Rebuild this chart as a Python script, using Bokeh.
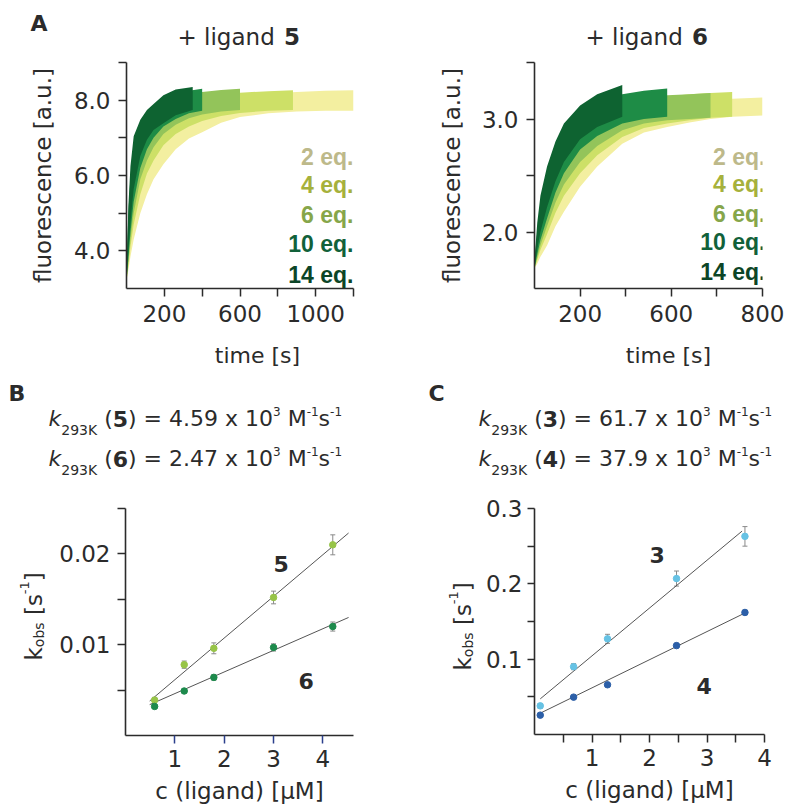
import math
from bokeh.plotting import figure
from bokeh.models import (ColumnDataSource, FixedTicker, Label, Whisker, TeeHead, Range1d)
from bokeh.layouts import column, row
from bokeh.embed import file_html
from bokeh.resources import INLINE

FONT = "DejaVu Sans"
LEG_FONT = "Liberation Sans"
INK = "#2b2b2b"

# ---------------- data: panel A, ligand 5 (fluorescence bands, lower / upper edge) ----------------
t5_14 = [0, 10, 21, 38, 73, 108, 143, 195, 260, 350]
lo5_14 = [3.2, 4.0, 4.77, 5.64, 6.52, 6.95, 7.21, 7.39, 7.6, 7.74]
hi5_14 = [3.5, 5.2, 6.25, 7.04, 7.48, 7.74, 7.9, 8.13, 8.28, 8.35]

t5_10 = [0, 10, 21, 38, 73, 108, 143, 195, 260, 330, 400]
lo5_10 = [3.2, 3.8, 4.5, 5.3, 6.2, 6.7, 7.0, 7.3, 7.5, 7.65, 7.72]
hi5_10 = [3.5, 5.0, 6.0, 6.8, 7.35, 7.62, 7.8, 8.0, 8.15, 8.25, 8.3]

t5_6 = [0, 10, 21, 38, 73, 108, 143, 195, 260, 330, 400, 500, 600]
lo5_6 = [3.2, 3.7, 4.3, 5.0, 5.9, 6.4, 6.75, 7.1, 7.35, 7.52, 7.62, 7.7, 7.74]
hi5_6 = [3.5, 4.7, 5.6, 6.4, 7.05, 7.4, 7.6, 7.85, 8.02, 8.15, 8.22, 8.27, 8.3]

t5_4 = [0, 10, 21, 38, 73, 108, 143, 195, 260, 330, 400, 500, 600, 750, 880]
lo5_4 = [3.2, 3.6, 4.1, 4.7, 5.5, 6.05, 6.4, 6.8, 7.1, 7.3, 7.45, 7.58, 7.66, 7.72, 7.74]
hi5_4 = [3.5, 4.5, 5.3, 6.0, 6.75, 7.15, 7.4, 7.65, 7.85, 8.0, 8.08, 8.15, 8.2, 8.24, 8.26]

t5_2 = [0, 10, 21, 38, 73, 108, 143, 195, 260, 330, 400, 500, 600, 750, 900, 1050, 1200]
lo5_2 = [3.2, 3.5, 3.85, 4.3, 5.0, 5.5, 5.9, 6.3, 6.7, 6.98, 7.15, 7.4, 7.55, 7.65, 7.7, 7.72, 7.72]
hi5_2 = [3.5, 4.2, 4.8, 5.4, 6.15, 6.6, 6.9, 7.2, 7.5, 7.7, 7.85, 8.0, 8.1, 8.18, 8.22, 8.25, 8.26]

# ---------------- data: panel A, ligand 6 ----------------
t6_14 = [0, 12, 26, 55, 92, 129, 200, 275, 385]
lo6_14 = [1.68, 1.85, 2.0, 2.22, 2.45, 2.62, 2.82, 2.93, 3.02]
hi6_14 = [1.75, 2.08, 2.32, 2.58, 2.8, 2.96, 3.12, 3.22, 3.3]

t6_10 = [0, 12, 26, 55, 92, 129, 200, 275, 385, 480, 582]
lo6_10 = [1.68, 1.8, 1.93, 2.12, 2.35, 2.52, 2.73, 2.85, 2.96, 3.0, 3.02]
hi6_10 = [1.75, 2.0, 2.2, 2.48, 2.7, 2.86, 3.04, 3.14, 3.22, 3.25, 3.27]

t6_6 = [0, 12, 26, 55, 92, 129, 200, 275, 385, 480, 582, 680, 772]
lo6_6 = [1.68, 1.77, 1.88, 2.05, 2.26, 2.42, 2.62, 2.76, 2.9, 2.96, 2.99, 3.0, 3.01]
hi6_6 = [1.75, 1.95, 2.12, 2.38, 2.6, 2.76, 2.95, 3.06, 3.15, 3.19, 3.21, 3.22, 3.23]

t6_4 = [0, 12, 26, 55, 92, 129, 200, 275, 385, 480, 582, 680, 772, 867]
lo6_4 = [1.68, 1.75, 1.84, 1.98, 2.17, 2.32, 2.52, 2.68, 2.84, 2.92, 2.96, 2.99, 3.01, 3.02]
hi6_4 = [1.75, 1.9, 2.05, 2.3, 2.52, 2.67, 2.87, 2.99, 3.1, 3.16, 3.2, 3.22, 3.23, 3.24]

t6_2 = [0, 12, 26, 55, 92, 129, 200, 275, 385, 480, 582, 680, 772, 867, 1000]
lo6_2 = [1.68, 1.72, 1.78, 1.88, 2.05, 2.18, 2.4, 2.58, 2.78, 2.88, 2.93, 2.97, 3.0, 3.02, 3.03]
hi6_2 = [1.75, 1.85, 1.97, 2.2, 2.42, 2.57, 2.77, 2.9, 3.03, 3.1, 3.14, 3.16, 3.17, 3.18, 3.19]

eq_labels = ["2 eq.", "4 eq.", "6 eq.", "10 eq.", "14 eq."]

# ---------------- data: panel B ----------------
conc_B = [0.59, 1.19, 1.79, 3.0, 4.2]
kobs_5 = [0.0039, 0.0078, 0.0096, 0.0152, 0.0210]
err_5 = [0.0003, 0.0004, 0.0006, 0.0007, 0.0011]
kobs_6 = [0.0032, 0.0049, 0.0064, 0.0097, 0.0120]
err_6 = [0.0002, 0.0002, 0.0003, 0.0004, 0.0005]
fit_x_B = [0.49, 4.52]
fit_5 = [0.0038, 0.0223]
fit_6 = [0.0034, 0.0130]

# ---------------- data: panel C ----------------
conc_C = [0.1, 0.68, 1.27, 2.47, 3.66]
kobs_3 = [0.038, 0.090, 0.127, 0.207, 0.263]
err_3 = [0.003, 0.004, 0.006, 0.010, 0.013]
kobs_4 = [0.0257, 0.0496, 0.066, 0.118, 0.162]
err_4 = [0.002, 0.002, 0.002, 0.003, 0.003]
fit_x_3 = [0.1, 3.61]
fit_3 = [0.0473, 0.270]
fit_x_4 = [0.1, 3.69]
fit_4 = [0.0283, 0.1624]

rate_names_B = ["5", "6"]
rate_values_B = ["4.59", "2.47"]
rate_names_C = ["3", "4"]
rate_values_C = ["61.7", "37.9"]

# ---------------- styling ----------------
BAND_COLORS = ["#f3efa0", "#cde067", "#93c45a", "#1e8c46", "#0e6331"]
LEG_COLORS = ["#bdb98a", "#a6b13c", "#86a64a", "#11613a", "#0c4527"]

# DejaVu Sans advance widths (em)
WREG = {" ": .318, "(": .39, ")": .39, "=": .838, ".": .318, "x": .592, "M": .863,
        "s": .521, "K": .656, "k": .580, "-": .361, "[": .39, "]": .39, "o": .612, "b": .635,
        "+": .838, "l": .278, "i": .278, "g": .635, "a": .613, "n": .634, "d": .635}
for d in "0123456789":
    WREG[d] = .636


def text_w(txt, size, bold=False):
    w = 0.0
    for ch in txt:
        if bold and ch.isdigit():
            w += .696
        else:
            w += WREG.get(ch, .6)
    return w * size


class Geo:
    """maps page pixel positions to data coordinates of a figure"""
    def __init__(self, L, T, W, H, xr, yr):
        self.L, self.T, self.W, self.H = L, T, W, H
        self.xr, self.yr = xr, yr

    def x(self, px):
        return self.xr[0] + (px - self.L) / self.W * (self.xr[1] - self.xr[0])

    def y(self, py):
        return self.yr[0] + (self.T + self.H - py) / self.H * (self.yr[1] - self.yr[0])


class PageGeo:
    def x(self, px):
        return px

    def y(self, py):
        return py


PG = PageGeo()


def canvas(x0, x1, y0, y1):
    p = figure(frame_width=x1 - x0, frame_height=y1 - y0,
               x_range=Range1d(x0, x1), y_range=Range1d(y1, y0),
               output_backend="svg", toolbar_location=None, tools="",
               min_border=0, x_axis_location=None, y_axis_location=None)
    p.outline_line_color = None
    p.grid.visible = False
    p.xgrid.grid_line_color = None
    p.ygrid.grid_line_color = None
    p.background_fill_color = "white"
    p.border_fill_color = "white"
    return p


def make_fig(g, origin, size, xticks, xlab, yticks, ylab):
    ox, oy = origin
    fw, fh = size
    p = figure(frame_width=g.W, frame_height=g.H,
               x_range=Range1d(*g.xr), y_range=Range1d(*g.yr),
               output_backend="svg", toolbar_location=None, tools="",
               min_border_left=g.L - ox, min_border_top=g.T - oy,
               min_border_right=ox + fw - (g.L + g.W),
               min_border_bottom=oy + fh - (g.T + g.H))
    p.outline_line_color = None
    p.grid.visible = False
    p.background_fill_color = "white"
    p.border_fill_color = "white"
    for ax in (p.xaxis[0], p.yaxis[0]):
        ax.axis_line_color = INK
        ax.axis_line_width = 1.6
        ax.major_tick_line_color = INK
        ax.major_tick_line_width = 1.5
        ax.major_tick_out = 8
        ax.major_tick_in = 0
        ax.minor_tick_line_color = None
        ax.major_label_text_font = FONT
        ax.major_label_text_font_size = "23px"
        ax.major_label_text_color = INK
        ax.major_label_standoff = 8
        ax.axis_label_text_font = FONT
        ax.axis_label_text_font_size = "23px"
        ax.axis_label_text_font_style = "normal"
        ax.axis_label_text_color = INK
    p.xaxis[0].ticker = FixedTicker(ticks=xticks, minor_ticks=[])
    p.xaxis[0].major_label_overrides = {t: l for t, l in zip(xticks, xlab)}
    p.yaxis[0].ticker = FixedTicker(ticks=yticks, minor_ticks=[])
    p.yaxis[0].major_label_overrides = {t: l for t, l in zip(yticks, ylab)}
    return p


def lab(p, g, px, py, text, size, style="normal", color=INK, align="left",
        baseline="alphabetic", angle=0.0, font=FONT):
    p.add_layout(Label(x=g.x(px), y=g.y(py), text=text, text_font=font,
                       text_font_size=f"{size}px", text_font_style=style,
                       text_color=color, text_align=align, text_baseline=baseline,
                       angle=angle))


def rate_line(p, px0, pyb, name, val):
    segs = [("k", 22, "italic", 0), ("293K", 14, "normal", 11), (" (", 22, "normal", 0),
            (name, 22, "bold", 0), (") = " + val + " x 10", 22, "normal", 0),
            ("3", 12, "normal", -7), (" M", 22, "normal", 0), ("-1", 12, "normal", -7),
            ("s", 22, "normal", 0), ("-1", 12, "normal", -7)]
    x = px0
    for txt, sz, st, dy in segs:
        shown = txt.lstrip(" ")
        lead = text_w(txt[:len(txt) - len(shown)], sz)
        lab(p, PG, x + lead, pyb + dy, shown, sz, style=st)
        x += text_w(txt, sz, bold=(st == "bold"))


def kobs_label(p, pxb, py0):
    segs = [("k", 23, 0), ("obs", 14, 5), (" [s", 23, 0), ("-1", 13, -9), ("]", 23, 0)]
    y = py0
    for txt, sz, dx in segs:
        shown = txt.lstrip(" ")
        lead = text_w(txt[:len(txt) - len(shown)], sz)
        lab(p, PG, pxb + dx, y - lead, shown, sz, angle=math.pi / 2)
        y -= text_w(txt, sz)


# ---------------- header A ----------------
hdrA = canvas(0, 800, 0, 50)
lab(hdrA, PG, 30, 23, "A", 22, style="bold")
lab(hdrA, PG, 177, 36, "+ ligand", 23)
lab(hdrA, PG, 177 + text_w("+ ligand ", 23) + 2, 36, "5", 23, style="bold")
lab(hdrA, PG, 585, 36, "+ ligand", 23)
lab(hdrA, PG, 585 + text_w("+ ligand ", 23) + 2, 36, "6", 23, style="bold")

# ---------------- panel A left ----------------
gA1 = Geo(126, 61, 227, 226, (0, 1200), (3.0, 9.0))
pA1 = make_fig(gA1, (0, 50), (400, 283),
               [200, 400, 600, 800, 1000, 1200], ["200", "", "600", "", "1000", ""],
               [4.0, 5.0, 6.0, 7.0, 8.0, 9.0], ["4.0", "", "6.0", "", "8.0", ""])
bands5 = [(t5_2, lo5_2, hi5_2), (t5_4, lo5_4, hi5_4), (t5_6, lo5_6, hi5_6),
          (t5_10, lo5_10, hi5_10), (t5_14, lo5_14, hi5_14)]
for (t, lo, hi), c in zip(bands5, BAND_COLORS):
    pA1.varea(x=t, y1=lo, y2=hi, fill_color=c, fill_alpha=1.0)
pA1.yaxis[0].axis_label = "fluorescence [a.u.]"
pA1.yaxis[0].axis_label_standoff = 15

# ---------------- panel A right ----------------
gA2 = Geo(534, 62, 228, 226, (0, 1000), (1.5, 3.5))
pA2 = make_fig(gA2, (400, 50), (400, 283),
               [200, 400, 600, 800, 1000], ["200", "", "600", "", "800"],
               [2.0, 2.5, 3.0, 3.5], ["2.0", "", "3.0", ""])
bands6 = [(t6_2, lo6_2, hi6_2), (t6_4, lo6_4, hi6_4), (t6_6, lo6_6, hi6_6),
          (t6_10, lo6_10, hi6_10), (t6_14, lo6_14, hi6_14)]
for (t, lo, hi), c in zip(bands6, BAND_COLORS):
    pA2.varea(x=t, y1=lo, y2=hi, fill_color=c, fill_alpha=1.0)
pA2.yaxis[0].axis_label = "fluorescence [a.u.]"
pA2.yaxis[0].axis_label_standoff = 14

leg_y1 = [155, 183.5, 213, 242.5, 273]
leg_y2 = [156.5, 183, 213, 241.5, 271.5]
for txt, c, y1, y2 in zip(eq_labels, LEG_COLORS, leg_y1, leg_y2):
    lab(pA1, gA1, 353, y1, txt, 23, style="bold", color=c, align="right", font=LEG_FONT)
    lab(pA2, gA2, 765, y2, txt, 23, style="bold", color=c, align="right", font=LEG_FONT)

# ---------------- header B / C ----------------
hdrB = canvas(0, 800, 333, 490)
lab(hdrB, PG, 257, 355, "time [s]", 22, align="center")
lab(hdrB, PG, 668, 355, "time [s]", 22, align="center")
lab(hdrB, PG, 8, 393, "B", 22, style="bold")
lab(hdrB, PG, 428, 393, "C", 22, style="bold")
for i, (nm, val) in enumerate(zip(rate_names_B, rate_values_B)):
    rate_line(hdrB, 48, 418 + 40 * i, nm, val)
for i, (nm, val) in enumerate(zip(rate_names_C, rate_values_C)):
    rate_line(hdrB, 478, 418 + 40 * i, nm, val)

# ---------------- panel B ----------------
txtL = canvas(0, 56, 490, 808)
kobs_label(txtL, 33, 642)

gB = Geo(124, 508, 228, 227, (0, 4.62), (0, 0.025))
pB = make_fig(gB, (56, 490), (344, 318),
              [1, 2, 3, 4], ["1", "2", "3", "4"],
              [0.005, 0.01, 0.015, 0.02, 0.025], ["", "0.01", "", "0.02", ""])
pB.yaxis[0].major_label_standoff = 7
pB.xaxis[0].major_tick_line_color = "#2b3f8c"
pB.xaxis[0].major_label_standoff = 6
pB.xaxis[0].axis_label = "c (ligand) [µM]"
pB.xaxis[0].axis_label_standoff = 8
pB.line(fit_x_B, fit_5, line_color="#555555", line_width=1)
pB.line(fit_x_B, fit_6, line_color="#555555", line_width=1)
for k, e, c in ((kobs_5, err_5, "#97c448"), (kobs_6, err_6, "#1d8a4c")):
    src = ColumnDataSource(dict(x=conc_B, y=k, up=[a + b for a, b in zip(k, e)],
                                lo=[a - b for a, b in zip(k, e)]))
    pB.add_layout(Whisker(source=src, base="x", upper="up", lower="lo", line_color="#8a8a8a",
                          line_width=1, upper_head=TeeHead(size=5, line_color="#8a8a8a"),
                          lower_head=TeeHead(size=5, line_color="#8a8a8a")))
    pB.scatter("x", "y", source=src, size=6.5, fill_color=c, line_color=c)
lab(pB, gB, 272, 563, rate_names_B[0], 22, style="bold")
lab(pB, gB, 297, 680, rate_names_B[1], 22, style="bold")

# ---------------- panel C ----------------
txtM = canvas(400, 480, 490, 808)
kobs_label(txtM, 461, 652)

gC = Geo(533, 508, 230, 226, (0, 4.0), (0, 0.3))
pC = make_fig(gC, (480, 490), (320, 318),
              [0.5, 1, 1.5, 2, 2.5, 3, 3.5, 4], ["", "1", "", "2", "", "3", "", "4"],
              [0.05, 0.1, 0.15, 0.2, 0.25, 0.3], ["", "0.1", "", "0.2", "", "0.3"])
pC.yaxis[0].major_tick_out = 7
pC.yaxis[0].major_label_standoff = 5
pC.xaxis[0].major_label_standoff = 6
pC.xaxis[0].axis_label = "c (ligand) [µM]"
pC.xaxis[0].axis_label_standoff = 8
pC.line(fit_x_3, fit_3, line_color="#555555", line_width=1)
pC.line(fit_x_4, fit_4, line_color="#555555", line_width=1)
for k, e, c in ((kobs_3, err_3, "#66c2e4"), (kobs_4, err_4, "#2c5fa8")):
    src = ColumnDataSource(dict(x=conc_C, y=k, up=[a + b for a, b in zip(k, e)],
                                lo=[a - b for a, b in zip(k, e)]))
    pC.add_layout(Whisker(source=src, base="x", upper="up", lower="lo", line_color="#8a8a8a",
                          line_width=1, upper_head=TeeHead(size=5, line_color="#8a8a8a"),
                          lower_head=TeeHead(size=5, line_color="#8a8a8a")))
    pC.scatter("x", "y", source=src, size=6.5, fill_color=c, line_color=c)
lab(pC, gC, 648, 554, rate_names_C[0], 22, style="bold")
lab(pC, gC, 695, 685, rate_names_C[1], 22, style="bold")

layout = column(hdrA, row(pA1, pA2), hdrB, row(txtL, pB, txtM, pC))
open("out.html", "w").write(file_html(layout, INLINE))
